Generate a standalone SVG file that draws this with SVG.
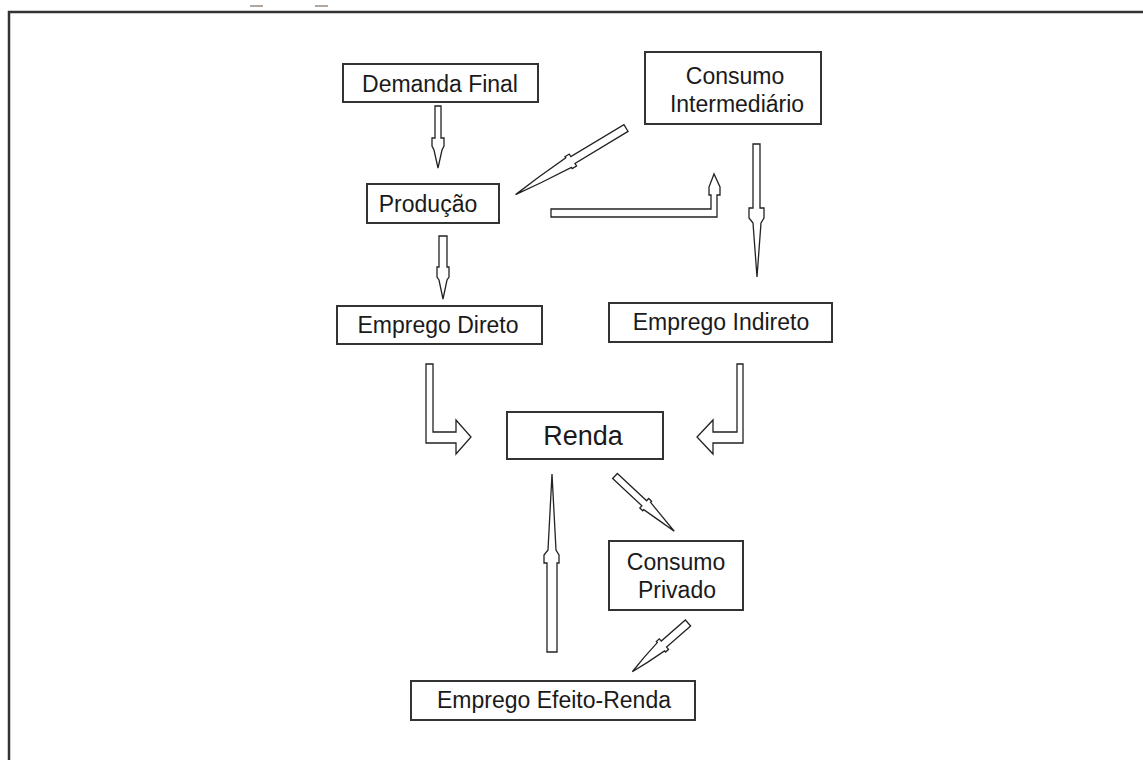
<svg xmlns="http://www.w3.org/2000/svg" width="1143" height="760" viewBox="0 0 1143 760">
<style>
.box{fill:#fff;stroke:#333;stroke-width:2}
.t{font-family:"Liberation Sans",Arial,sans-serif;font-size:23px;fill:#1a1a1a;text-anchor:middle}
.arr{fill:#fff;stroke:#222;stroke-width:1.3;stroke-linejoin:miter}
.frame{fill:none;stroke:#333;stroke-width:2.5}
</style>
<rect width="1143" height="760" fill="#fff"/>
<path class="frame" d="M9,760 V12 H1143"/>
<rect x="250" y="5" width="13" height="2" fill="#b0a8a0"/>
<rect x="315" y="5" width="13" height="2" fill="#b0a8a0"/>

<g id="connectors">
  <!-- Demanda Final -> Producao -->
  <polygon class="arr" points="435,106 441,106 441,138 444,138 444,146 442,150 438,168 434,150 432,146 432,138 435,138"/>
  <!-- Consumo Intermediario -> Producao -->
  <polygon class="arr" transform="translate(626,128) rotate(148.9)" points="0,-4 62,-4 62,-7 67,-7 67,-5.5 100,-3 129,0 100,3 67,5.5 67,7 62,7 62,4 0,4"/>
  <!-- Producao -> Consumo Intermediario (L) -->
  <polygon class="arr" points="551,209 711,209 711,195 709,195 709,187 714,174 720,187 720,195 717,195 717,217 551,217"/>
  <!-- Consumo Intermediario -> Emprego Indireto -->
  <polygon class="arr" points="753,144 760,144 760,208 764,208 764,218 761,223 757,277 753,223 749,218 749,208 753,208"/>
  <!-- Producao -> Emprego Direto -->
  <polygon class="arr" points="439,236 447,236 447,267 449,267 449,277 447,280 443,299 439,280 437,277 437,267 439,267"/>
  <!-- Emprego Direto -> Renda -->
  <polygon class="arr" points="426,364 433,364 433,432 456,432 456,420 471,437 456,454 456,443 426,443"/>
  <!-- Emprego Indireto -> Renda -->
  <polygon class="arr" points="743,364 737,364 737,432 713,432 713,420 697,437 713,454 713,443 743,443"/>
  <!-- Emprego Efeito-Renda -> Renda -->
  <polygon class="arr" points="547,652 557,652 557,563 559,563 559,555 556,550 552,474 548,550 544,555 544,563 547,563"/>
  <!-- Renda -> Consumo Privado -->
  <polygon class="arr" transform="translate(615,476) rotate(43)" points="0,-3.5 40,-3.5 40,-6.5 44,-6.5 44,-5 62,-2.5 81,0 62,2.5 44,5 44,6.5 40,6.5 40,3.5 0,3.5"/>
  <!-- Consumo Privado -> Emprego Efeito-Renda -->
  <polygon class="arr" transform="translate(688,623) rotate(138.8)" points="0,-4 32,-4 32,-7 36,-7 36,-5.5 56,-3 74,0 56,3 36,5.5 36,7 32,7 32,4 0,4"/>
</g>

<g id="demanda-final">
  <rect class="box" x="343" y="64" width="195" height="38"/>
  <text class="t" x="440" y="92">Demanda Final</text>
</g>
<g id="consumo-intermediario">
  <rect class="box" x="645" y="52" width="176" height="72"/>
  <text class="t" x="735" y="84">Consumo</text>
  <text class="t" x="737" y="112">Intermediário</text>
</g>
<g id="producao">
  <rect class="box" x="367" y="184" width="132" height="39"/>
  <text class="t" x="428" y="212">Produção</text>
</g>
<g id="emprego-direto">
  <rect class="box" x="337" y="306" width="205" height="38"/>
  <text class="t" x="438" y="333">Emprego Direto</text>
</g>
<g id="emprego-indireto">
  <rect class="box" x="609" y="303" width="223" height="39"/>
  <text class="t" x="721" y="330">Emprego Indireto</text>
</g>
<g id="renda">
  <rect class="box" x="507" y="412" width="156" height="47"/>
  <text class="t" x="583" y="445" style="font-size:27px">Renda</text>
</g>
<g id="consumo-privado">
  <rect class="box" x="609" y="541" width="134" height="69"/>
  <text class="t" x="676" y="570">Consumo</text>
  <text class="t" x="677" y="598">Privado</text>
</g>
<g id="emprego-efeito-renda">
  <rect class="box" x="411" y="681" width="284" height="39"/>
  <text class="t" x="554" y="708">Emprego Efeito-Renda</text>
</g>
</svg>
